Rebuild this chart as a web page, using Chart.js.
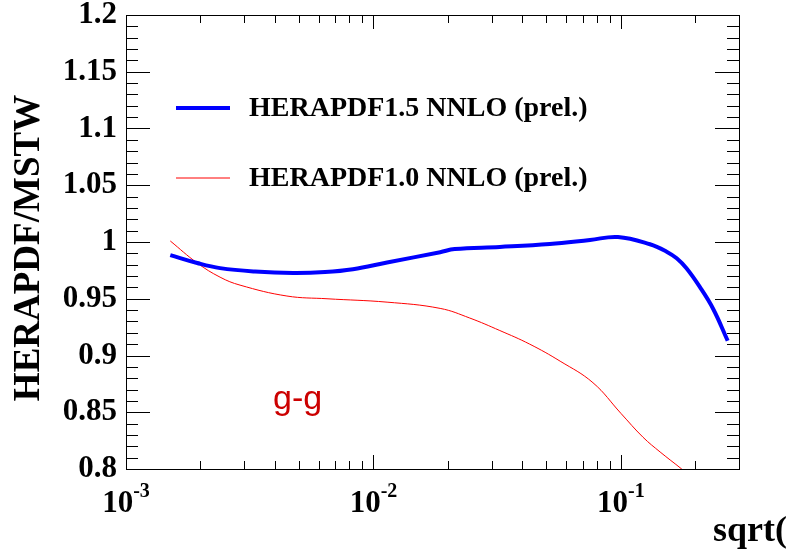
<!DOCTYPE html>
<html>
<head>
<meta charset="utf-8">
<script src="https://cdn.jsdelivr.net/npm/chart.js@4.4.1/dist/chart.umd.min.js"></script>
<style>body{margin:0;background:#fff}</style>
</head>
<body>
<canvas id="chart" width="788" height="555"></canvas>
<script>
var seriesNames = ['HERAPDF1.5 NNLO (prel.)', 'HERAPDF1.0 NNLO (prel.)']
// HERAPDF1.5 / MSTW (thick blue)
var blueX = [0.00151, 0.00194, 0.0024, 0.00332, 0.00473, 0.00637, 0.00826, 0.01135, 0.0186, 0.0213, 0.0324, 0.0516, 0.075, 0.0973, 0.131, 0.153, 0.168, 0.184, 0.208, 0.236, 0.270]
var blueY = [0.9885, 0.9815, 0.977, 0.974, 0.9727, 0.9735, 0.976, 0.982, 0.991, 0.9938, 0.9956, 0.9982, 1.0018, 1.0044, 0.998, 0.9915, 0.9856, 0.9768, 0.9606, 0.941, 0.913]
// HERAPDF1.0 / MSTW (thin red)
var redX = [0.00151, 0.00194, 0.0024, 0.00289, 0.00447, 0.00649, 0.01135, 0.0186, 0.0245, 0.0324, 0.0428, 0.0568, 0.0771, 0.1, 0.1228, 0.144, 0.176, 0.208]
var redY = [1.0009, 0.9815, 0.969, 0.962, 0.9524, 0.950, 0.947, 0.9415, 0.933, 0.922, 0.910, 0.895, 0.876, 0.849, 0.828, 0.815, 0.800, 0.787]
var xDecades = [-3, -2, -1]
var yTitle = 'HERAPDF/MSTW'
var xTitle = 'sqrt(\u015D/s)'
var channel = 'g-g'

var serif = '"Liberation Serif", "Times New Roman", serif'

function pts(xs, ys) {
    return xs.map(function(x, i) { return {x: x, y: ys[i]} })
}

var decor = {
    id: 'decor',
    afterDraw: function(chart) {
        var ctx = chart.ctx, a = chart.chartArea
        var xs = chart.scales.x, ys = chart.scales.y
        ctx.save()
        ctx.strokeStyle = '#000'
        ctx.lineWidth = 1
        ctx.strokeRect(Math.round(a.left) + 0.5, Math.round(a.top) + 0.5, Math.round(a.right - a.left), Math.round(a.bottom - a.top))
        ctx.beginPath()
        for (var i = 80; i <= 120; i++) {
            var py = Math.round(ys.getPixelForValue(i / 100)) + 0.5
            var len = i % 5 == 0 ? 24 : 12
            ctx.moveTo(a.left, py); ctx.lineTo(a.left + len, py)
            ctx.moveTo(a.right, py); ctx.lineTo(a.right - len, py)
        }
        xDecades.forEach(function(e) {
            for (var m = 1; m <= 9; m++) {
                var v = m * Math.pow(10, e)
                if (v > xs.max) break
                var px = Math.round(xs.getPixelForValue(v)) + 0.5
                var len = m == 1 ? 14 : 8
                ctx.moveTo(px, a.bottom); ctx.lineTo(px, a.bottom - len)
                ctx.moveTo(px, a.top); ctx.lineTo(px, a.top + len)
            }
        })
        ctx.stroke()

        // x tick labels 10^n
        ctx.fillStyle = '#000'
        ctx.textAlign = 'left'
        ctx.textBaseline = 'alphabetic'
        xDecades.forEach(function(e) {
            var px = xs.getPixelForValue(Math.pow(10, e))
            ctx.font = 'bold 31px ' + serif
            var w1 = ctx.measureText('10').width
            ctx.font = 'bold 20px ' + serif
            var w2 = ctx.measureText(String(e)).width
            var x0 = px - (w1 + w2) / 2
            ctx.font = 'bold 31px ' + serif
            ctx.fillText('10', x0, 512)
            ctx.font = 'bold 20px ' + serif
            ctx.fillText(String(e), x0 + w1, 497)
        })

        // axis titles
        ctx.font = 'bold 36px ' + serif
        ctx.fillText(xTitle, 713, 541)
        ctx.save()
        ctx.translate(29, 248)
        ctx.rotate(-Math.PI / 2)
        ctx.textAlign = 'center'
        ctx.textBaseline = 'middle'
        ctx.font = 'bold 37px ' + serif
        ctx.fillText(yTitle, 0, 0)
        ctx.restore()

        // legend
        var ly = [108, 178]
        chart.data.datasets.forEach(function(ds, i) {
            ctx.strokeStyle = ds.borderColor
            ctx.lineWidth = ds.borderWidth
            ctx.beginPath()
            ctx.moveTo(176, ly[i]); ctx.lineTo(230, ly[i])
            ctx.stroke()
            ctx.fillStyle = '#000'
            ctx.font = 'bold 28px ' + serif
            ctx.textBaseline = 'middle'
            ctx.fillText(ds.label, 249, ly[i] + 1)
        })

        ctx.fillStyle = '#cc0000'
        ctx.font = '34px "Liberation Sans", Arial, sans-serif'
        ctx.textBaseline = 'alphabetic'
        ctx.fillText(channel, 273, 409)
        ctx.restore()
    }
}

var chart = new Chart(document.getElementById('chart').getContext('2d'), {
    type: 'line',
    data: {
        datasets: [{
            label: seriesNames[0],
            data: pts(blueX, blueY),
            borderColor: '#0000ff',
            borderWidth: 4,
            pointRadius: 0,
            tension: 0.4,
            clip: 0
        }, {
            label: seriesNames[1],
            data: pts(redX, redY),
            borderColor: '#ff0000',
            borderWidth: 1,
            pointRadius: 0,
            tension: 0.4,
            clip: 0
        }]
    },
    options: {
        responsive: false,
        animation: false,
        devicePixelRatio: 1,
        layout: { padding: { left: 0, right: 49, top: 15, bottom: 86 } },
        plugins: {
            legend: { display: false },
            tooltip: { enabled: false }
        },
        scales: {
            x: {
                type: 'logarithmic',
                min: 0.001,
                max: 0.3,
                display: false
            },
            y: {
                min: 0.8,
                max: 1.2,
                grid: { display: false, drawTicks: false },
                border: { display: false },
                ticks: {
                    stepSize: 0.05,
                    padding: 9,
                    color: '#000',
                    font: { family: serif, size: 31, weight: 'bold' },
                    callback: function(v) { return String(Number(v.toFixed(2))) }
                },
                afterFit: function(s) {
                    s.width = 126
                    s.paddingTop = 0
                    s.paddingBottom = 0
                }
            }
        }
    },
    plugins: [decor]
})
</script>
</body>
</html>
